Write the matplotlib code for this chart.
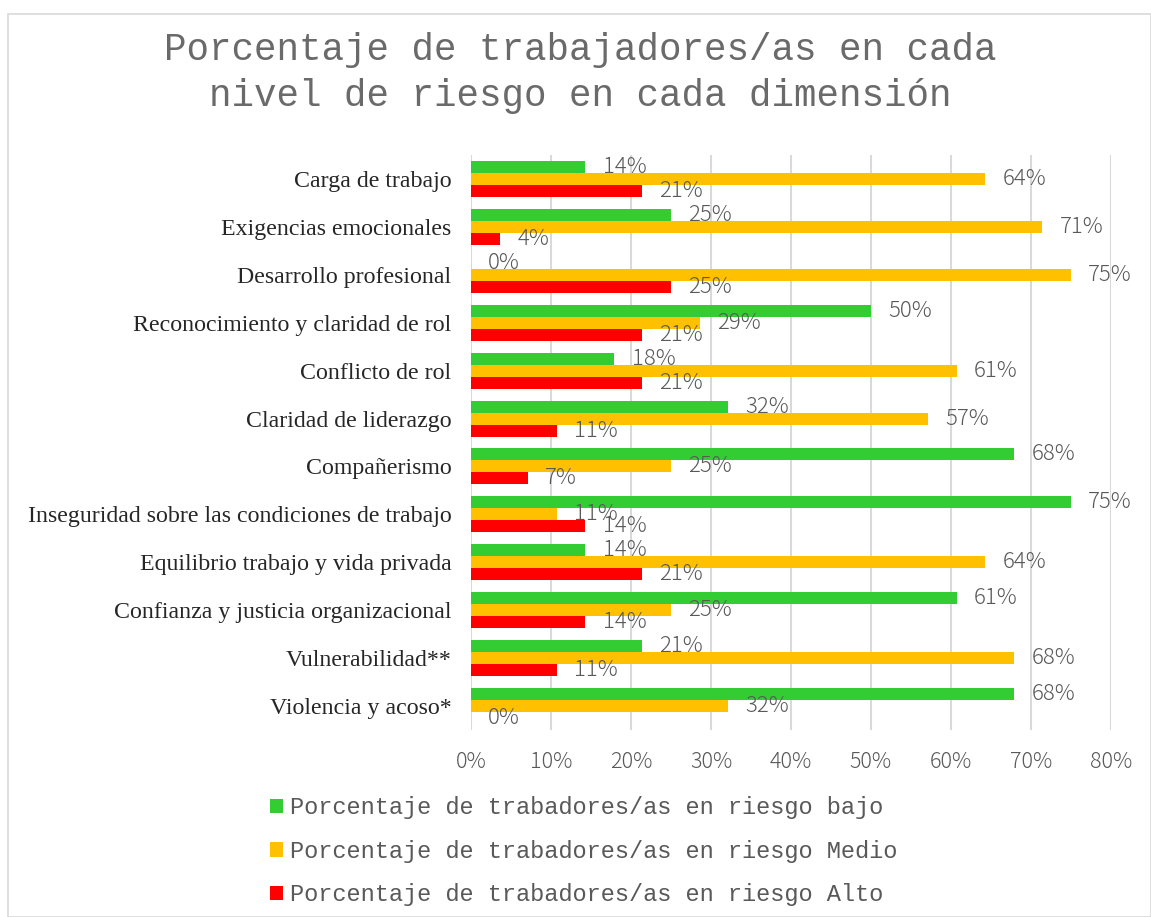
import matplotlib
matplotlib.use("Agg")
import matplotlib.pyplot as plt
from matplotlib.patches import Rectangle
import numpy as np

categories = [
    "Carga de trabajo",
    "Exigencias emocionales",
    "Desarrollo profesional",
    "Reconocimiento y claridad de rol",
    "Conflicto de rol",
    "Claridad de liderazgo",
    "Compañerismo",
    "Inseguridad sobre las condiciones de trabajo",
    "Equilibrio trabajo y vida privada",
    "Confianza y justicia organizacional",
    "Vulnerabilidad**",
    "Violencia y acoso*",
]
bajo = [14.3, 25.0, 0.0, 50.0, 17.9, 32.1, 67.9, 75.0, 14.3, 60.7, 21.4, 67.9]
medio = [64.3, 71.4, 75.0, 28.6, 60.7, 57.1, 25.0, 10.7, 64.3, 25.0, 67.9, 32.1]
alto = [21.4, 3.6, 25.0, 21.4, 21.4, 10.7, 7.1, 14.3, 21.4, 14.3, 10.7, 0.0]
series_names = [
    "Porcentaje de trabadores/as en riesgo bajo",
    "Porcentaje de trabadores/as en riesgo Medio",
    "Porcentaje de trabadores/as en riesgo Alto",
]
colors = ["#33CC33", "#FFC000", "#FF0000"]
xticks = [0, 10, 20, 30, 40, 50, 60, 70, 80]
title = "Porcentaje de trabajadores/as en cada\nnivel de riesgo en cada dimensión"

W, H = 1151, 917
fig = plt.figure(figsize=(W / 100, H / 100), dpi=100)
fig.patches.append(Rectangle((8 / W, 0), (1151 - 8) / W, 1 - 14 / H, transform=fig.transFigure,
                             fill=False, edgecolor="#D9D9D9", lw=1.2))

ax = fig.add_axes([471 / W, 1 - 730 / H, (1111 - 471) / W, (730 - 155) / H])

mono = ["Liberation Mono", "DejaVu Sans Mono"]
narrow = ["Noto Sans CJK JP", "DejaVu Sans"]
serif = ["Liberation Serif", "DejaVu Serif"]
gray = "#595959"

y = np.arange(len(categories))
h = 0.25
for i, (vals, col, name) in enumerate(zip([bajo, medio, alto], colors, series_names)):
    yy = y + (i - 1) * h
    ax.barh(yy, vals, height=h, color=col, label=name, zorder=3)
    for yv, v in zip(yy, vals):
        ax.annotate(f"{v:.0f}%", xy=(v, yv), xytext=(12.5, 0), textcoords="offset points",
                    ha="left", va="center", fontsize=16, color=gray, family=narrow,
                    fontweight="light", zorder=4)

ax.set_ylim(len(categories) - 0.5, -0.5)
ax.set_xlim(0, 80)
ax.set_xticks(xticks)
ax.set_xticklabels([f"{t}%" for t in xticks], family=narrow, fontsize=15.5, color=gray,
                   fontweight="light")
ax.set_yticks(y)
ax.set_yticklabels(categories, family=serif, fontsize=17.2, color="#262626")
ax.tick_params(axis="both", length=0)
ax.tick_params(axis="x", pad=15)
ax.tick_params(axis="y", pad=14)
ax.grid(axis="x", color="#D9D9D9", lw=1.5, zorder=0)
for s in ax.spines.values():
    s.set_visible(False)

fig.text(580 / W, 1 - 73 / H, title, ha="center", va="center", family=mono, fontsize=27,
         color="#6a6a6a", linespacing=1.35)

leg = fig.legend(loc="upper left", bbox_to_anchor=(249 / W, 1 - 775 / H), frameon=False,
                 prop={"family": mono, "size": 17}, labelcolor=gray,
                 handlelength=0.55, handleheight=0.55, handletextpad=0.3, labelspacing=0.87)

fig.savefig("out.png", dpi=100)
